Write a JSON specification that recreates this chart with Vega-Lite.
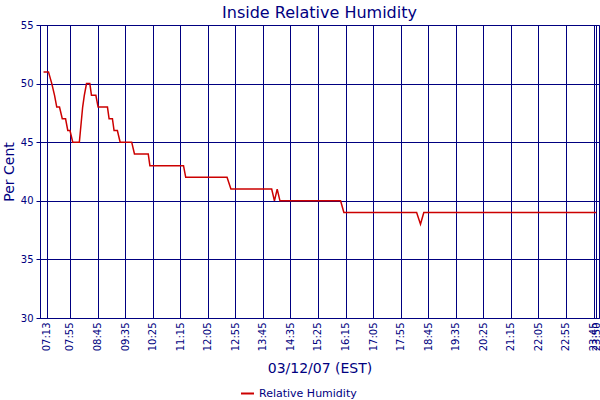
{
  "$schema": "https://vega.github.io/schema/vega-lite/v6.json",
  "width": 559,
  "height": 293,
  "autosize": {"type": "none"},
  "padding": {"left": 40, "top": 25, "right": 1, "bottom": 82},
  "background": "white",
  "title": {
    "text": "Inside Relative Humidity",
    "font": "DejaVu Sans",
    "fontSize": 16,
    "fontWeight": "normal",
    "color": "#000080",
    "anchor": "middle",
    "baseline": "alphabetic",
    "offset": 4,
    "dy": 18
  },
  "data": {
    "values": [
      {"time": "2007-03-12T07:07:00", "rh": 51},
      {"time": "2007-03-12T07:16:00", "rh": 51},
      {"time": "2007-03-12T07:22:00", "rh": 50},
      {"time": "2007-03-12T07:27:00", "rh": 49},
      {"time": "2007-03-12T07:31:00", "rh": 48},
      {"time": "2007-03-12T07:36:00", "rh": 48},
      {"time": "2007-03-12T07:41:00", "rh": 47},
      {"time": "2007-03-12T07:47:00", "rh": 47},
      {"time": "2007-03-12T07:51:00", "rh": 46},
      {"time": "2007-03-12T07:55:00", "rh": 46},
      {"time": "2007-03-12T08:00:00", "rh": 45},
      {"time": "2007-03-12T08:12:00", "rh": 45},
      {"time": "2007-03-12T08:14:00", "rh": 46},
      {"time": "2007-03-12T08:16:00", "rh": 47},
      {"time": "2007-03-12T08:18:00", "rh": 48},
      {"time": "2007-03-12T08:21:00", "rh": 49},
      {"time": "2007-03-12T08:25:00", "rh": 50},
      {"time": "2007-03-12T08:31:00", "rh": 50},
      {"time": "2007-03-12T08:34:00", "rh": 49},
      {"time": "2007-03-12T08:42:00", "rh": 49},
      {"time": "2007-03-12T08:46:00", "rh": 48},
      {"time": "2007-03-12T09:03:00", "rh": 48},
      {"time": "2007-03-12T09:06:00", "rh": 47},
      {"time": "2007-03-12T09:12:00", "rh": 47},
      {"time": "2007-03-12T09:15:00", "rh": 46},
      {"time": "2007-03-12T09:21:00", "rh": 46},
      {"time": "2007-03-12T09:26:00", "rh": 45},
      {"time": "2007-03-12T09:47:00", "rh": 45},
      {"time": "2007-03-12T09:52:00", "rh": 44},
      {"time": "2007-03-12T10:17:00", "rh": 44},
      {"time": "2007-03-12T10:20:00", "rh": 43},
      {"time": "2007-03-12T11:21:00", "rh": 43},
      {"time": "2007-03-12T11:25:00", "rh": 42},
      {"time": "2007-03-12T12:40:00", "rh": 42},
      {"time": "2007-03-12T12:47:00", "rh": 41},
      {"time": "2007-03-12T14:01:00", "rh": 41},
      {"time": "2007-03-12T14:06:00", "rh": 40},
      {"time": "2007-03-12T14:11:00", "rh": 41},
      {"time": "2007-03-12T14:16:00", "rh": 40},
      {"time": "2007-03-12T16:06:00", "rh": 40},
      {"time": "2007-03-12T16:12:00", "rh": 39},
      {"time": "2007-03-12T18:24:00", "rh": 39},
      {"time": "2007-03-12T18:31:00", "rh": 38},
      {"time": "2007-03-12T18:37:00", "rh": 39},
      {"time": "2007-03-12T23:50:00", "rh": 39}
    ]
  },
  "mark": {"type": "line", "strokeWidth": 1.5, "interpolate": "linear"},
  "encoding": {
    "x": {
      "field": "time",
      "type": "temporal",
      "title": "03/12/07 (EST)",
      "scale": {
        "domain": [
          {"year": 2007, "month": 3, "date": 12, "hours": 7, "minutes": 0, "seconds": 36},
          {"year": 2007, "month": 3, "date": 12, "hours": 23, "minutes": 54, "seconds": 54}
        ]
      },
      "axis": {
        "values": [
          {"year": 2007, "month": 3, "date": 12, "hours": 7, "minutes": 13},
          {"year": 2007, "month": 3, "date": 12, "hours": 7, "minutes": 55},
          {"year": 2007, "month": 3, "date": 12, "hours": 8, "minutes": 45},
          {"year": 2007, "month": 3, "date": 12, "hours": 9, "minutes": 35},
          {"year": 2007, "month": 3, "date": 12, "hours": 10, "minutes": 25},
          {"year": 2007, "month": 3, "date": 12, "hours": 11, "minutes": 15},
          {"year": 2007, "month": 3, "date": 12, "hours": 12, "minutes": 5},
          {"year": 2007, "month": 3, "date": 12, "hours": 12, "minutes": 55},
          {"year": 2007, "month": 3, "date": 12, "hours": 13, "minutes": 45},
          {"year": 2007, "month": 3, "date": 12, "hours": 14, "minutes": 35},
          {"year": 2007, "month": 3, "date": 12, "hours": 15, "minutes": 25},
          {"year": 2007, "month": 3, "date": 12, "hours": 16, "minutes": 15},
          {"year": 2007, "month": 3, "date": 12, "hours": 17, "minutes": 5},
          {"year": 2007, "month": 3, "date": 12, "hours": 17, "minutes": 55},
          {"year": 2007, "month": 3, "date": 12, "hours": 18, "minutes": 45},
          {"year": 2007, "month": 3, "date": 12, "hours": 19, "minutes": 35},
          {"year": 2007, "month": 3, "date": 12, "hours": 20, "minutes": 25},
          {"year": 2007, "month": 3, "date": 12, "hours": 21, "minutes": 15},
          {"year": 2007, "month": 3, "date": 12, "hours": 22, "minutes": 5},
          {"year": 2007, "month": 3, "date": 12, "hours": 22, "minutes": 55},
          {"year": 2007, "month": 3, "date": 12, "hours": 23, "minutes": 45},
          {"year": 2007, "month": 3, "date": 12, "hours": 23, "minutes": 50}
        ],
        "format": "%H:%M",
        "labelAngle": 270,
        "labelAlign": "right",
        "labelBaseline": "middle",
        "labelPadding": 4,
        "labelOverlap": false,
        "labelBound": false,
        "labelFlush": false,
        "tickSize": 0,
        "grid": true,
        "titleY": 54,
        "titleX": 279.5,
        "titleAlign": "center",
        "titleBaseline": "alphabetic"
      }
    },
    "y": {
      "field": "rh",
      "type": "quantitative",
      "title": "Per Cent",
      "scale": {"domain": [30, 55], "nice": false, "zero": false},
      "axis": {
        "values": [30, 35, 40, 45, 50, 55],
        "tickSize": 4,
        "labelPadding": 3,
        "grid": true,
        "titleAngle": 270,
        "titleX": -27,
        "titleY": 146.5,
        "titleAlign": "center",
        "titleBaseline": "alphabetic"
      }
    },
    "color": {
      "datum": "Relative Humidity",
      "type": "nominal",
      "scale": {"range": ["#cc0000"]},
      "legend": {
        "orient": "none",
        "legendX": 200,
        "legendY": 361,
        "title": null,
        "symbolType": "stroke",
        "symbolSize": 169,
        "symbolStrokeWidth": 2,
        "labelFont": "DejaVu Sans",
        "labelFontSize": 11,
        "labelColor": "#000080",
        "labelOffset": 4,
        "padding": 0
      }
    }
  },
  "config": {
    "view": {"stroke": "#000080", "strokeWidth": 1},
    "axis": {
      "domainColor": "#000080",
      "tickColor": "#000080",
      "gridColor": "#000080",
      "gridOpacity": 1,
      "gridWidth": 1,
      "labelColor": "#000080",
      "labelFont": "DejaVu Sans",
      "labelFontSize": 10,
      "titleColor": "#000080",
      "titleFont": "DejaVu Sans",
      "titleFontSize": 14,
      "titleFontWeight": "normal"
    }
  }
}
